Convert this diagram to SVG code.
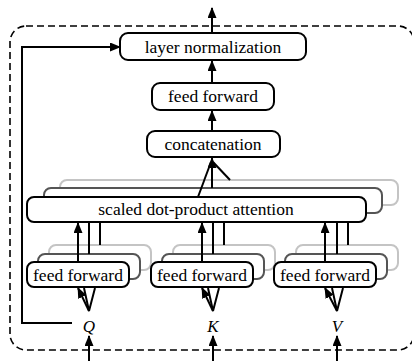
<svg xmlns="http://www.w3.org/2000/svg" width="412" height="361" viewBox="0 0 412 361">
<style>
.box{fill:#fff;stroke:#000;stroke-width:2}
.mid{fill:#fff;stroke:#555;stroke-width:2}
.back{fill:#fff;stroke:#c4c4c4;stroke-width:2}
.lbl{font-family:"Liberation Serif","Times New Roman","DejaVu Serif",serif;font-size:17.5px;fill:#000;text-anchor:middle}
.var{font-family:"Liberation Serif","Times New Roman","DejaVu Serif",serif;font-size:17px;font-style:italic;fill:#000;text-anchor:middle}
.ln{fill:none;stroke:#000;stroke-width:2}
.arr{fill:none;stroke:#000;stroke-width:2;marker-end:url(#ah)}
.frame{fill:none;stroke:#000;stroke-width:1.6;stroke-dasharray:7 4}
</style>
<defs>
<marker id="ah" markerUnits="userSpaceOnUse" markerWidth="11" markerHeight="9" refX="10" refY="4.5" orient="auto">
<path d="M0,0 L11,4.5 L0,9 z" fill="#000"/>
</marker>
</defs>
<rect width="412" height="361" fill="#fff"/>
<rect id="frame" class="frame" x="10" y="26" width="404" height="324" rx="16"/>

<g id="attention">
<rect class="back" x="60" y="180" width="338" height="25" rx="7"/>
<rect class="mid" x="44" y="188" width="338" height="25" rx="7"/>
<rect class="box" x="27" y="197" width="339" height="25" rx="7"/>
<text class="lbl" x="196" y="215">scaled dot-product attention</text>
</g>

<g id="ffq">
<rect class="back" x="49" y="245" width="102" height="25" rx="7"/>
<rect class="mid" x="38" y="254" width="102" height="25" rx="7"/>
<rect class="box" x="27" y="262" width="102" height="25" rx="7"/>
<text class="lbl" x="78" y="281">feed forward</text>
</g>
<g id="ffk">
<rect class="back" x="173" y="245" width="102" height="25" rx="7"/>
<rect class="mid" x="162" y="254" width="102" height="25" rx="7"/>
<rect class="box" x="151" y="262" width="102" height="25" rx="7"/>
<text class="lbl" x="202" y="281">feed forward</text>
</g>
<g id="ffv">
<rect class="back" x="296" y="245" width="102" height="25" rx="7"/>
<rect class="mid" x="285" y="254" width="102" height="25" rx="7"/>
<rect class="box" x="274" y="262" width="102" height="25" rx="7"/>
<text class="lbl" x="325" y="281">feed forward</text>
</g>

<g id="concat">
<rect class="box" x="147" y="131" width="133" height="26" rx="8"/>
<text class="lbl" x="213" y="150">concatenation</text>
</g>
<g id="fftop">
<rect class="box" x="152" y="83" width="122" height="27" rx="8"/>
<text class="lbl" x="213" y="102">feed forward</text>
</g>
<g id="layernorm">
<rect class="box" x="120" y="33" width="186" height="27" rx="8"/>
<text class="lbl" x="213" y="53">layer normalization</text>
</g>

<g id="q"><text class="var" x="89" y="332">Q</text></g>
<g id="k"><text class="var" x="213" y="332">K</text></g>
<g id="v"><text class="var" x="337" y="332">V</text></g>

<g id="connectors">
<line class="arr" x1="212" y1="33" x2="212" y2="8"/>
<line class="arr" x1="212" y1="83" x2="212" y2="61"/>
<line class="arr" x1="212" y1="131" x2="212" y2="111"/>
<line class="arr" x1="212" y1="188" x2="212" y2="158"/>
<line class="ln" x1="198" y1="197" x2="211" y2="162"/>
<line class="ln" x1="230" y1="180" x2="213" y2="162"/>
<polyline class="arr" points="72,323 22,323 22,47 120,47"/>

<line class="arr" x1="78" y1="262" x2="78" y2="223"/>
<line class="ln" x1="89" y1="254" x2="89" y2="222"/>
<line class="ln" x1="100" y1="245" x2="100" y2="222"/>
<line class="arr" x1="202" y1="262" x2="202" y2="223"/>
<line class="ln" x1="213" y1="254" x2="213" y2="222"/>
<line class="ln" x1="224" y1="245" x2="224" y2="222"/>
<line class="arr" x1="325" y1="262" x2="325" y2="223"/>
<line class="ln" x1="337" y1="254" x2="337" y2="222"/>
<line class="ln" x1="348" y1="245" x2="348" y2="222"/>

<polyline class="ln" points="84,288 89,311 95,288"/>
<line class="arr" x1="89" y1="311" x2="78" y2="288"/>
<polyline class="ln" points="208,288 213,311 219,288"/>
<line class="arr" x1="213" y1="311" x2="202" y2="288"/>
<polyline class="ln" points="332,288 337,311 343,288"/>
<line class="arr" x1="337" y1="311" x2="325" y2="288"/>

<line class="arr" x1="89" y1="361" x2="89" y2="336"/>
<line class="arr" x1="213" y1="361" x2="213" y2="336"/>
<line class="arr" x1="337" y1="361" x2="337" y2="336"/>
</g>
</svg>
